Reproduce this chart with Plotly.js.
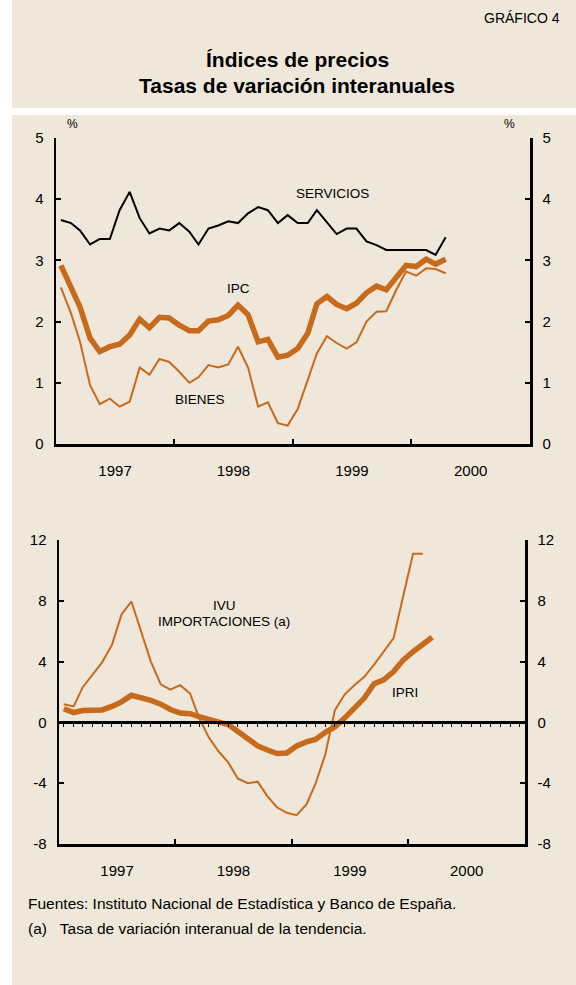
<!DOCTYPE html>
<html><head><meta charset="utf-8">
<script src="https://cdn.plot.ly/plotly-3.0.1.min.js"></script>
<style>html,body{margin:0;padding:0;background:#fff;}</style>
</head><body><div id="chart" style="width:576px;height:985px;"></div>
<script>
// ---- data (monthly, year-on-year rates, %) ----
const monthsTop = ['1997-01','1997-02','1997-03','1997-04','1997-05','1997-06','1997-07','1997-08','1997-09','1997-10','1997-11','1997-12',
  '1998-01','1998-02','1998-03','1998-04','1998-05','1998-06','1998-07','1998-08','1998-09','1998-10','1998-11','1998-12',
  '1999-01','1999-02','1999-03','1999-04','1999-05','1999-06','1999-07','1999-08','1999-09','1999-10','1999-11','1999-12',
  '2000-01','2000-02','2000-03','2000-04'];
const monthsExtra = ['2000-05','2000-06','2000-07','2000-08','2000-09','2000-10','2000-11','2000-12'];
const servicios = [3.66,3.61,3.49,3.26,3.35,3.35,3.82,4.12,3.69,3.44,3.52,3.49,
  3.61,3.47,3.26,3.52,3.57,3.64,3.61,3.77,3.87,3.82,3.61,3.74,
  3.61,3.61,3.82,3.63,3.43,3.52,3.52,3.31,3.25,3.17,3.17,3.17,
  3.17,3.17,3.09,3.38];
const ipc = [2.92,2.58,2.24,1.73,1.51,1.59,1.63,1.78,2.04,1.90,2.07,2.06,
  1.94,1.85,1.85,2.01,2.03,2.10,2.27,2.11,1.67,1.71,1.42,1.45,
  1.56,1.81,2.29,2.41,2.28,2.21,2.30,2.47,2.58,2.52,2.73,2.92,
  2.90,3.02,2.94,3.02];
const bienes = [2.56,2.14,1.67,0.96,0.65,0.74,0.61,0.69,1.25,1.13,1.39,1.34,
  1.18,1.00,1.09,1.29,1.25,1.30,1.59,1.25,0.61,0.68,0.34,0.30,
  0.57,1.05,1.48,1.76,1.65,1.56,1.66,2.00,2.16,2.17,2.52,2.82,
  2.75,2.87,2.86,2.79];
const ivu = [1.2,1.05,2.3,3.1,3.95,5.1,7.1,7.95,6.0,4.0,2.5,2.15,
  2.45,1.9,0.3,-1.0,-1.9,-2.65,-3.7,-4.0,-3.9,-4.85,-5.6,-5.95,
  -6.1,-5.4,-4.05,-2.1,0.8,1.85,2.45,3.0,3.8,4.7,5.55,8.3,
  11.1,11.1];
const ipri = [0.9,0.65,0.78,0.8,0.82,1.05,1.35,1.78,1.62,1.45,1.2,0.85,
  0.62,0.57,0.38,0.22,0.08,-0.15,-0.6,-1.1,-1.55,-1.82,-2.05,-2.02,
  -1.55,-1.28,-1.12,-0.65,-0.3,0.3,0.95,1.6,2.55,2.8,3.35,4.1,
  4.65,5.1,5.6];
const yearLabels = ['1997','1998','1999','2000'];
const topTicks = [0,1,2,3,4,5];
const topTickText = ['0','1','2','3','4','5'];
const botTicks = [-8,-4,0,4,8,12];
const botTickText = ['-8','-4','0','4','8','12'];

// ---- helpers ----
const W = 576, H = 985;
const px = x => x / W;
const py = y => 1 - y / H;
const mid = m => m + '-16';
const ORANGE = '#C86A1C';
const BEIGE = '#EFE7D9';
const FONT = 'Liberation Sans, Arial, sans-serif';

const xTop = monthsTop.map(mid);
const xIvu = monthsTop.slice(0, ivu.length).map(mid);
const xIpri = monthsTop.slice(0, ipri.length).map(mid);

const yearMid = yearLabels.map(y => y + '-07-02');
const yearStart = yearLabels.slice(1).map(y => y + '-01-01');

const traces = [
  {x: xTop, y: servicios, type: 'scatter', mode: 'lines', line: {color: '#000', width: 2}, xaxis: 'x', yaxis: 'y', hoverinfo: 'skip'},
  {x: xTop, y: bienes, type: 'scatter', mode: 'lines', line: {color: ORANGE, width: 2}, xaxis: 'x', yaxis: 'y', hoverinfo: 'skip'},
  {x: xTop, y: ipc, type: 'scatter', mode: 'lines', line: {color: ORANGE, width: 5.5}, xaxis: 'x', yaxis: 'y', hoverinfo: 'skip'},
  {x: xIvu, y: ivu, type: 'scatter', mode: 'lines', line: {color: ORANGE, width: 2}, xaxis: 'x2', yaxis: 'y3', hoverinfo: 'skip'},
  {x: xIpri, y: ipri, type: 'scatter', mode: 'lines', line: {color: ORANGE, width: 5.5}, xaxis: 'x2', yaxis: 'y3', hoverinfo: 'skip'},
  {x: [], y: [], type: 'scatter', xaxis: 'x', yaxis: 'y2', showlegend: false},
  {x: [], y: [], type: 'scatter', xaxis: 'x2', yaxis: 'y4', showlegend: false},
  {x: [], y: [], type: 'scatter', xaxis: 'x3', yaxis: 'y3', showlegend: false}
];

const topDom = [py(444), py(138)];
const botDom = [py(844), py(540)];
const xTopDom = [px(56), px(530)];
const xBotDom = [px(59), px(525)];
const zeroPos = botDom[0] + (0 - (-8)) / 20 * (botDom[1] - botDom[0]);

const xBase = dom => ({
  domain: dom, type: 'date', range: ['1997-01-01', '2001-01-01'],
  showline: true, linecolor: '#000', linewidth: 2.5, showgrid: false, zeroline: false,
  tickmode: 'array', tickvals: yearMid, ticktext: yearLabels, ticks: '',
  ticklabelstandoff: 11,
  tickfont: {family: FONT, size: 15, color: '#000'},
  minor: {tickmode: 'array', tickvals: yearStart, ticks: 'inside', ticklen: 5, tickwidth: 2, tickcolor: '#000'}
});
const yBase = (dom, rng, vals, txt, side, anchor, overlay) => {
  const a = {
    domain: dom, range: rng, tickmode: 'array', tickvals: vals, ticktext: txt,
    showline: true, linecolor: '#000', linewidth: 2.5, showgrid: false, zeroline: false,
    ticks: 'inside', ticklen: 5, tickwidth: 2, tickcolor: '#000',
    ticklabelstandoff: 7,
    tickfont: {family: FONT, size: 15, color: '#000'},
    side: side, anchor: anchor
  };
  if (overlay) a.overlaying = overlay;
  return a;
};

const ann = (x, y, text, opts) => Object.assign({
  xref: 'paper', yref: 'paper', x: px(x), y: py(y), text: text, showarrow: false,
  font: {family: FONT, size: 13, color: '#000'}, xanchor: 'center', yanchor: 'middle'
}, opts || {});

const layout = {
  width: W, height: H, margin: {l: 0, r: 0, t: 0, b: 0},
  paper_bgcolor: '#fff', plot_bgcolor: 'rgba(0,0,0,0)',
  showlegend: false,
  font: {family: FONT, color: '#000'},
  xaxis: xBase(xTopDom),
  xaxis2: Object.assign(xBase(xBotDom), {anchor: 'y3'}),
  xaxis3: {
    domain: xBotDom, type: 'date', range: ['1997-01-01', '2001-01-01'],
    overlaying: 'x2', anchor: 'free', position: zeroPos,
    showline: true, linecolor: '#000', linewidth: 2.5, showgrid: false, zeroline: false,
    tickmode: 'array', tickvals: monthsTop.concat(monthsExtra).map(mid),
    ticks: 'outside', ticklen: 3, tickwidth: 1, tickcolor: '#000', showticklabels: false
  },
  yaxis: yBase(topDom, [0, 5], topTicks, topTickText, 'left', 'x'),
  yaxis2: yBase(topDom, [0, 5], topTicks, topTickText, 'right', 'x', 'y'),
  yaxis3: yBase(botDom, [-8, 12], botTicks, botTickText, 'left', 'x2'),
  yaxis4: yBase(botDom, [-8, 12], botTicks, botTickText, 'right', 'x2', 'y3'),
  shapes: [
    {type: 'rect', xref: 'paper', yref: 'paper', x0: px(12), x1: 1, y0: py(108), y1: 1, fillcolor: BEIGE, line: {width: 0}, layer: 'below'},
    {type: 'rect', xref: 'paper', yref: 'paper', x0: px(12), x1: 1, y0: 0, y1: py(115), fillcolor: BEIGE, line: {width: 0}, layer: 'below'}
  ],
  annotations: [
    ann(562, 18, 'GRÁFICO 4', {xanchor: 'right', font: {family: FONT, size: 14, color: '#000'}}),
    ann(297, 59, '<b>Índices de precios</b>', {font: {family: FONT, size: 21, color: '#000'}}),
    ann(297, 85, '<b>Tasas de variación interanuales</b>', {font: {family: FONT, size: 21, color: '#000'}}),
    ann(72, 124, '%', {font: {family: FONT, size: 12, color: '#000'}}),
    ann(509, 124, '%', {font: {family: FONT, size: 12, color: '#000'}}),
    ann(332, 194, 'SERVICIOS', {font: {family: FONT, size: 13.5, color: '#000'}}),
    ann(238, 288, 'IPC', {font: {family: FONT, size: 13.5, color: '#000'}}),
    ann(200, 399, 'BIENES', {font: {family: FONT, size: 13.5, color: '#000'}}),
    ann(224, 605, 'IVU', {font: {family: FONT, size: 13.5, color: '#000'}}),
    ann(224, 621, 'IMPORTACIONES (a)', {font: {family: FONT, size: 13.5, color: '#000'}}),
    ann(405, 692, 'IPRI', {font: {family: FONT, size: 13.5, color: '#000'}}),
    ann(26, 903, 'Fuentes: Instituto Nacional de Estadística y Banco de España.', {xanchor: 'left', font: {family: FONT, size: 15.5, color: '#000'}}),
    ann(26, 928, '(a)&nbsp;&nbsp;&nbsp;Tasa de variación interanual de la tendencia.', {xanchor: 'left', font: {family: FONT, size: 15.5, color: '#000'}})
  ]
};

Plotly.newPlot('chart', traces, layout, {staticPlot: true, displayModeBar: false});
</script>
</body></html>
